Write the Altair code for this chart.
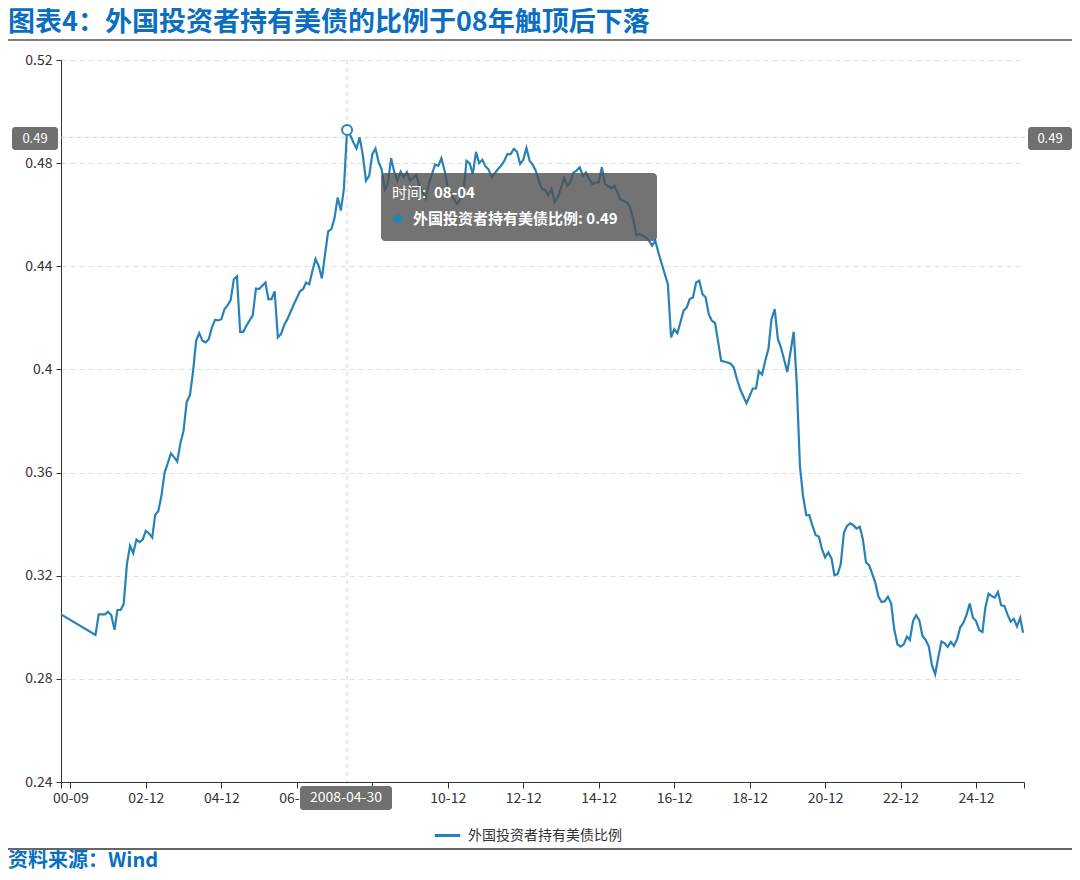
import altair as alt
import pandas as pd

FONT = "Noto Sans CJK SC"
LINE = "#2782b8"
BLUE = "#0a6fc2"

TITLE = "图表4：外国投资者持有美债的比例于08年触顶后下落"
SOURCE = "资料来源：Wind"
SERIES = "外国投资者持有美债比例"

# monthly readings (Jan..Dec), None = no observation
v2000 = [None, None, None, None, None, None, None, None, 0.305, None, None, None]
v2001 = [None, None, None, None, None, None, None, 0.297, 0.305, None, 0.305, 0.306]
v2002 = [0.3047, 0.299, 0.3067, 0.3067, 0.309, 0.3245, 0.3316, 0.3287, 0.334, 0.333, 0.334, 0.3374]
v2003 = [0.3364, 0.3348, 0.3435, 0.3451, 0.351, 0.360, 0.3636, 0.3674, 0.366, 0.3643, 0.3714, 0.3762]
v2004 = [0.3874, 0.390, 0.3988, 0.4111, 0.4141, 0.4111, 0.4105, 0.4117, 0.4163, 0.4192, 0.419, 0.4195]
v2005 = [0.4234, 0.4249, 0.4269, 0.435, 0.4361, 0.4146, 0.4146, 0.417, None, 0.421, 0.4314, 0.4312]
v2006 = [None, 0.4337, 0.4273, 0.4273, 0.4303, 0.4124, 0.4137, 0.4172, 0.4195, None, 0.4251, None]
v2007 = [0.4303, 0.4312, 0.4337, 0.433, 0.4382, 0.4428, 0.4402, 0.4353, 0.4447, 0.4535, 0.4544, 0.4586]
v2008 = [0.4667, 0.4616, 0.470, 0.4929, 0.4909, 0.4881, 0.4857, 0.490, 0.4829, 0.4732, 0.4751, 0.4835]
v2009 = [0.4857, 0.4803, 0.4777, 0.4697, 0.472, 0.4819, 0.4767, 0.4732, 0.4767, 0.4745, 0.4765, 0.4732]
v2010 = [None, 0.4754, 0.4712, None, 0.4663, 0.4719, None, 0.4795, 0.479, 0.4819, 0.4771, 0.4706]
v2011 = [0.468, None, 0.4641, 0.4658, 0.468, 0.4809, 0.480, 0.4758, 0.4844, 0.480, 0.4813, 0.4788]
v2012 = [0.4775, 0.4745, None, 0.4777, 0.479, 0.4809, 0.4835, 0.4835, 0.4855, 0.4845, 0.4797, 0.4813]
v2013 = [0.4859, 0.4809, 0.4795, 0.4771, 0.4732, 0.470, 0.4695, 0.4676, 0.470, 0.4648, 0.4667, None]
v2014 = [0.4741, 0.4712, 0.4726, 0.4764, 0.4771, 0.4784, 0.4751, 0.4764, 0.4738, 0.4719, 0.4725, 0.4725]
v2015 = [0.4784, 0.4719, 0.4712, 0.4702, 0.4712, 0.4687, 0.4658, None, 0.4648, 0.4628, 0.4583, 0.452]
v2016 = [0.4525, None, 0.4512, 0.4499, 0.448, 0.4499, 0.4454, None, 0.437, 0.4331, 0.4124, 0.4156]
v2017 = [0.4141, 0.4185, 0.4227, 0.424, 0.4273, 0.4279, 0.4337, 0.4344, 0.4292, 0.428, 0.4214, 0.4189]
v2018 = [0.418, None, 0.4033, None, 0.4027, 0.4022, 0.4007, 0.3962, 0.3923, None, 0.3869, 0.3897]
v2019 = [0.3926, 0.3926, 0.3993, 0.398, 0.4033, 0.4079, 0.4195, 0.4234, 0.4117, 0.4085, None, 0.399]
v2020 = [None, 0.4146, 0.395, 0.3626, 0.351, 0.3435, 0.3435, 0.3393, 0.3357, 0.3352, 0.3303, 0.3271]
v2021 = [0.329, 0.3267, 0.3202, 0.3206, 0.3244, 0.3367, 0.3393, 0.3403, 0.3395, 0.3383, 0.339, 0.3342]
v2022 = [0.3251, 0.324, None, 0.3173, 0.3119, 0.3098, 0.3101, 0.3119, 0.3093, 0.2992, 0.2934, 0.2925]
v2023 = [0.2934, 0.2964, 0.2951, 0.3024, 0.3047, 0.3027, 0.2966, 0.2951, 0.2925, 0.2853, 0.2818, 0.2883]
v2024 = [0.2945, 0.2938, 0.2924, 0.2943, 0.2928, 0.2954, 0.300, 0.3018, 0.305, 0.3092, 0.3037, 0.3024]
v2025 = [0.2989, 0.2982, 0.3076, 0.313, 0.3121, 0.3115, 0.3137, 0.3085, 0.3083, 0.305, 0.3022, 0.3033]
v2026 = [0.3003, 0.3037, 0.2979]

YEARS = {
    2000: v2000, 2001: v2001, 2002: v2002, 2003: v2003, 2004: v2004, 2005: v2005,
    2006: v2006, 2007: v2007, 2008: v2008, 2009: v2009, 2010: v2010, 2011: v2011,
    2012: v2012, 2013: v2013, 2014: v2014, 2015: v2015, 2016: v2016, 2017: v2017,
    2018: v2018, 2019: v2019, 2020: v2020, 2021: v2021, 2022: v2022, 2023: v2023,
    2024: v2024, 2025: v2025, 2026: v2026,
}

tick_years = [2000, 2002, 2004, 2006, 2008, 2010, 2012, 2014, 2016, 2018, 2020, 2022, 2024]
tick_labels = ["00-09", "02-12", "04-12", "06-12", "08-12", "10-12", "12-12",
               "14-12", "16-12", "18-12", "20-12", "22-12", "24-12"]
y_ticks = [0.24, 0.28, 0.32, 0.36, 0.40, 0.44, 0.48, 0.52]

peak_date = "2008-04-01"
peak_label_date = "2008-04-30"
peak_tip_date = "08-04"
pointer_value = 0.49

rows = []
for yr, vals in YEARS.items():
    for i, v in enumerate(vals):
        if v is not None:
            rows.append({"date": f"{yr}-{i + 1:02d}-01", "value": v, "series": SERIES})
df = pd.DataFrame(rows)
peak_df = df[df["date"] == peak_date]
hline_df = pd.DataFrame({"value": [pointer_value]})

# x axis label expression built from tick arrays
expr = "''"
for yr, lab in reversed(list(zip(tick_years, tick_labels))):
    expr = f"(utcyear(datum.value)=={yr} && utcmonth(datum.value)==11) ? '{lab}' : ({expr})"

x_values = [alt.DateTime(year=2000, month=9, date=1, utc=True)] + \
    [alt.DateTime(year=y, month=12, date=1, utc=True) for y in tick_years] + \
    [alt.DateTime(year=2026, month=3, date=10, utc=True)]

X = alt.X(
    "date:T",
    scale=alt.Scale(domain=[alt.DateTime(year=2000, month=9, date=1, utc=True),
                            alt.DateTime(year=2026, month=3, date=10, utc=True)]),
    axis=alt.Axis(values=x_values, labelExpr=expr, title=None, grid=False,
                  domainColor="#333", tickColor="#333", tickSize=6,
                  labelFontSize=14, labelColor="#333", labelFont=FONT,
                  labelPadding=3, labelOverlap=False, labelFlush=False, labelBound=False),
)
Y = alt.Y(
    "value:Q",
    scale=alt.Scale(domain=[0.24, 0.52], nice=False, zero=False),
    axis=alt.Axis(values=y_ticks, format=".2~f", title=None, grid=True,
                  gridDash=[5, 4], gridColor="#dedede", domainColor="#333",
                  tickColor="#333", tickSize=5, labelFontSize=14, labelColor="#333",
                  labelFont=FONT, labelPadding=4),
)

one = alt.Data(values=[{"t": ""}])


def txt(s, x, y, size, color, weight="normal", align="left"):
    return alt.Chart(alt.Data(values=[{"t": s}])).mark_text(
        align=align, baseline="middle", fontSize=size, fontWeight=weight,
        color=color, font=FONT
    ).encode(x=alt.value(x), y=alt.value(y), text="t:N")


def box(x1, x2, y1, y2, color, opacity=1.0, r=3):
    return alt.Chart(one).mark_rect(color=color, opacity=opacity, cornerRadius=r).encode(
        x=alt.value(x1), x2=alt.value(x2), y=alt.value(y1), y2=alt.value(y2))


def hrule(x1, x2, y, color, w):
    return alt.Chart(one).mark_rule(color=color, strokeWidth=w).encode(
        x=alt.value(x1), x2=alt.value(x2), y=alt.value(y))


vline = alt.Chart(peak_df).mark_rule(color="#cfcfcf", strokeDash=[4, 4], strokeWidth=1).encode(x=X)
hline = alt.Chart(hline_df).mark_rule(color="#cfcfcf", strokeDash=[4, 4], strokeWidth=1).encode(
    y=Y, x=alt.value(0), x2=alt.value(967))

line = alt.Chart(df).mark_line(strokeWidth=2.2).encode(
    x=X, y=Y,
    color=alt.Color("series:N", scale=alt.Scale(domain=[SERIES], range=[LINE]),
                    legend=alt.Legend(orient="none", legendX=372, legendY=761, title=None,
                                      symbolType="stroke", symbolStrokeWidth=3, symbolSize=650,
                                      labelFontSize=14, labelColor="#333", labelFont=FONT,
                                      labelOffset=6, padding=0)),
)
peak = alt.Chart(peak_df).mark_point(shape="circle", size=100, filled=True, fill="white",
                                     stroke=LINE, strokeWidth=2, opacity=1).encode(x=X, y=Y)

val_txt = f"{pointer_value:.2f}"
layers = [
    vline, hline, line, peak,
    box(320, 596, 113, 181, "#505050", 0.8, 4),
    txt("时间:", 331, 133, 15, "white"),
    txt(peak_tip_date, 373, 133, 15, "white", "bold"),
    alt.Chart(one).mark_point(shape="circle", size=80, filled=True, color=LINE, opacity=1).encode(
        x=alt.value(337), y=alt.value(159)),
    txt(f"{SERIES}: {val_txt}", 352, 159, 15, "white", "bold"),
    box(-49, -3, 67, 90, "#707070"),
    txt(val_txt, -26, 78.5, 13, "white", align="center"),
    box(967, 1011, 67, 90, "#707070"),
    txt(val_txt, 989, 78.5, 13, "white", align="center"),
    box(239, 331, 726, 750, "#707070"),
    txt(peak_label_date, 285, 738, 14, "white", align="center"),
    txt(TITLE, -53, -37, 27, BLUE, "bold"),
    hrule(-53, 1011, -20, "#555", 1.5),
    hrule(-53, 1011, 789, "#333", 1.5),
    txt(SOURCE, -53, 801, 20, BLUE, "bold"),
]

chart = alt.layer(*layers).properties(
    width=963, height=722,
    padding={"left": 53, "top": 52, "right": 48, "bottom": 90},
    autosize=alt.AutoSizeParams(type="none"),
).configure(font=FONT).configure_view(stroke=None)

chart.save("out.html", embed_options={"renderer": "svg", "actions": False})
